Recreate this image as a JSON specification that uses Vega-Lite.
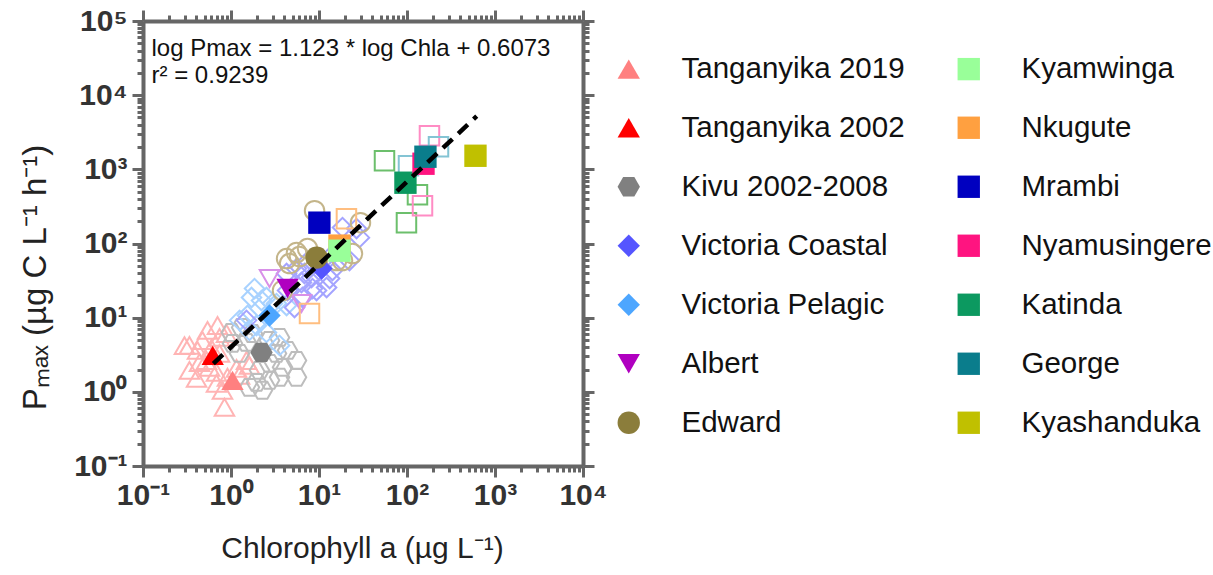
{
  "$schema": "https://vega.github.io/schema/vega-lite/v6.json",
  "width": 440,
  "height": 445,
  "autosize": {"type": "none"},
  "padding": {"left": 143, "top": 21, "right": 630, "bottom": 109},
  "config": {
    "font": "Liberation Sans",
    "view": {"stroke": null},
    "legend": {"labelFontSize": 29.5, "labelFont": "Liberation Sans", "labelColor": "#111111", "labelLimit": 400, "symbolStrokeWidth": 0, "padding": 0}
  },
  "datasets": {
    "open": [
      {"site": "Tanganyika 2019", "x": 0.337, "y": 4.23},
      {"site": "Tanganyika 2019", "x": 0.541, "y": 6.73},
      {"site": "Tanganyika 2019", "x": 0.703, "y": 7.85},
      {"site": "Tanganyika 2019", "x": 0.474, "y": 4.93},
      {"site": "Tanganyika 2019", "x": 0.74, "y": 5.42},
      {"site": "Tanganyika 2019", "x": 0.889, "y": 6.12},
      {"site": "Tanganyika 2019", "x": 0.439, "y": 2.49},
      {"site": "Tanganyika 2019", "x": 0.527, "y": 2.65},
      {"site": "Tanganyika 2019", "x": 0.337, "y": 1.95},
      {"site": "Tanganyika 2019", "x": 0.406, "y": 1.52},
      {"site": "Tanganyika 2019", "x": 0.57, "y": 2.14},
      {"site": "Tanganyika 2019", "x": 0.684, "y": 1.83},
      {"site": "Tanganyika 2019", "x": 0.912, "y": 1.57},
      {"site": "Tanganyika 2019", "x": 1.155, "y": 2.07},
      {"site": "Tanganyika 2019", "x": 1.5, "y": 2.65},
      {"site": "Tanganyika 2019", "x": 1.62, "y": 2.27},
      {"site": "Tanganyika 2019", "x": 0.684, "y": 1.3},
      {"site": "Tanganyika 2019", "x": 0.8, "y": 1.05},
      {"site": "Tanganyika 2019", "x": 0.843, "y": 0.62},
      {"site": "Tanganyika 2019", "x": 1.25, "y": 1.67},
      {"site": "Tanganyika 2019", "x": 0.416, "y": 3.62},
      {"site": "Tanganyika 2019", "x": 0.6, "y": 3.85},
      {"site": "Tanganyika 2019", "x": 0.74, "y": 3.3},
      {"site": "Tanganyika 2019", "x": 0.296, "y": 4.2},
      {"site": "Kivu 2002-2008", "x": 1.01, "y": 6.32},
      {"site": "Kivu 2002-2008", "x": 1.32, "y": 7.38},
      {"site": "Kivu 2002-2008", "x": 1.75, "y": 6.12},
      {"site": "Kivu 2002-2008", "x": 1.5, "y": 4.64},
      {"site": "Kivu 2002-2008", "x": 2.74, "y": 4.93},
      {"site": "Kivu 2002-2008", "x": 3.56, "y": 5.42},
      {"site": "Kivu 2002-2008", "x": 3.29, "y": 3.3},
      {"site": "Kivu 2002-2008", "x": 4.39, "y": 3.62},
      {"site": "Kivu 2002-2008", "x": 5.55, "y": 2.65},
      {"site": "Kivu 2002-2008", "x": 2.74, "y": 2.42},
      {"site": "Kivu 2002-2008", "x": 2.11, "y": 1.95},
      {"site": "Kivu 2002-2008", "x": 3.85, "y": 2.14},
      {"site": "Kivu 2002-2008", "x": 1.95, "y": 1.34},
      {"site": "Kivu 2002-2008", "x": 2.74, "y": 1.43},
      {"site": "Kivu 2002-2008", "x": 3.56, "y": 1.57},
      {"site": "Kivu 2002-2008", "x": 5.55, "y": 1.57},
      {"site": "Kivu 2002-2008", "x": 2.28, "y": 1.05},
      {"site": "Kivu 2002-2008", "x": 1.62, "y": 1.15},
      {"site": "Kivu 2002-2008", "x": 1.25, "y": 3.3},
      {"site": "Kivu 2002-2008", "x": 1.04, "y": 4.5},
      {"site": "Victoria Pelagic", "x": 1.85, "y": 24.7},
      {"site": "Victoria Pelagic", "x": 1.71, "y": 18.7},
      {"site": "Victoria Pelagic", "x": 2.53, "y": 18.7},
      {"site": "Victoria Pelagic", "x": 2.96, "y": 15.5},
      {"site": "Victoria Pelagic", "x": 1.54, "y": 10.7},
      {"site": "Victoria Pelagic", "x": 1.95, "y": 7.85},
      {"site": "Victoria Pelagic", "x": 2.53, "y": 6.32},
      {"site": "Victoria Pelagic", "x": 3.56, "y": 4.23},
      {"site": "Victoria Pelagic", "x": 4.28, "y": 14.6},
      {"site": "Victoria Pelagic", "x": 1.62, "y": 6.73},
      {"site": "Victoria Pelagic", "x": 2.22, "y": 17.0},
      {"site": "Victoria Pelagic", "x": 3.29, "y": 15.5},
      {"site": "Victoria Pelagic", "x": 1.25, "y": 9.2},
      {"site": "Victoria Coastal", "x": 4.28, "y": 39.4},
      {"site": "Victoria Coastal", "x": 5.55, "y": 45.9},
      {"site": "Victoria Coastal", "x": 7.21, "y": 55.3},
      {"site": "Victoria Coastal", "x": 6.32, "y": 29.8},
      {"site": "Victoria Coastal", "x": 8.22, "y": 34.8},
      {"site": "Victoria Coastal", "x": 10.1, "y": 43.2},
      {"site": "Victoria Coastal", "x": 13.2, "y": 33.7},
      {"site": "Victoria Coastal", "x": 12.2, "y": 25.5},
      {"site": "Victoria Coastal", "x": 8.44, "y": 24.7},
      {"site": "Victoria Coastal", "x": 6.49, "y": 18.7},
      {"site": "Victoria Coastal", "x": 5.27, "y": 13.7},
      {"site": "Victoria Coastal", "x": 18.5, "y": 164},
      {"site": "Victoria Coastal", "x": 26.7, "y": 159},
      {"site": "Victoria Coastal", "x": 28.8, "y": 120},
      {"site": "Victoria Coastal", "x": 22.2, "y": 58.9},
      {"site": "Victoria Coastal", "x": 14.2, "y": 43.2},
      {"site": "Victoria Coastal", "x": 4.39, "y": 23.2},
      {"site": "Victoria Coastal", "x": 6.84, "y": 39.4},
      {"site": "Victoria Coastal", "x": 13.2, "y": 64.6},
      {"site": "Victoria Coastal", "x": 9.38, "y": 23.2},
      {"site": "Victoria Coastal", "x": 1.5, "y": 9.2},
      {"site": "Albert", "x": 2.74, "y": 33.7},
      {"site": "Albert", "x": 6.32, "y": 15.5},
      {"site": "Edward", "x": 8.9, "y": 277},
      {"site": "Edward", "x": 5.55, "y": 75.5},
      {"site": "Edward", "x": 7.4, "y": 85.4},
      {"site": "Edward", "x": 4.28, "y": 62.6},
      {"site": "Edward", "x": 4.63, "y": 53.6},
      {"site": "Edward", "x": 3.85, "y": 23.2},
      {"site": "Edward", "x": 15.8, "y": 58.9},
      {"site": "Edward", "x": 24.0, "y": 73.1},
      {"site": "Edward", "x": 29.6, "y": 191},
      {"site": "Edward", "x": 18.5, "y": 58.9},
      {"site": "Edward", "x": 6.0, "y": 66.6},
      {"site": "Nkugute", "x": 20.5, "y": 216},
      {"site": "Nkugute", "x": 7.8, "y": 11.4},
      {"site": "Katinda", "x": 55.5, "y": 1306},
      {"site": "Katinda", "x": 131.5, "y": 455},
      {"site": "Katinda", "x": 98.6, "y": 191},
      {"site": "Nyamusingere", "x": 180, "y": 2832},
      {"site": "Nyamusingere", "x": 150, "y": 324},
      {"site": "George", "x": 228, "y": 2014},
      {"site": "George", "x": 104, "y": 1117}
    ],
    "means": [
      {"site": "Tanganyika 2019", "x": 1.04, "y": 1.43},
      {"site": "Tanganyika 2002", "x": 0.62, "y": 3.1},
      {"site": "Kivu 2002-2008", "x": 2.22, "y": 3.4},
      {"site": "Victoria Pelagic", "x": 2.74, "y": 10.7},
      {"site": "Victoria Coastal", "x": 10.7, "y": 45.9},
      {"site": "Albert", "x": 4.39, "y": 24.7},
      {"site": "Edward", "x": 9.4, "y": 64.6},
      {"site": "Nkugute", "x": 17.1, "y": 93.7},
      {"site": "Kyamwinga", "x": 17.1, "y": 80},
      {"site": "Mrambi", "x": 10.1, "y": 191},
      {"site": "Katinda", "x": 96, "y": 660},
      {"site": "Nyamusingere", "x": 154, "y": 1190},
      {"site": "George", "x": 162, "y": 1479},
      {"site": "Kyashanduka", "x": 600, "y": 1524}
    ],
    "fit": [
      {"x": 0.63, "y": 2.4},
      {"x": 620, "y": 5200}
    ],
    "eq": [
      {"x": 0.125, "y": 41950, "text": "log Pmax = 1.123 * log Chla + 0.6073"},
      {"x": 0.125, "y": 18200, "text": "r² = 0.9239"}
    ]
  },
  "resolve": {"axis": {"x": "independent", "y": "independent"}, "scale": {"color": "independent", "shape": "independent"}},
  "layer": [
    {
      "data": {"name": "open"},
      "mark": {"type": "point", "filled": false, "strokeWidth": 2, "opacity": 1, "size": 380},
      "encoding": {
        "x": {"field": "x", "type": "quantitative",
          "scale": {"type": "log", "domain": [0.1, 10000], "nice": false},
          "axis": {"orient": "top", "title": null, "labels": false, "grid": false,
            "values": [0.1,0.2,0.3,0.4,0.5,0.6,0.7,0.8,0.9,1,2,3,4,5,6,7,8,9,10,20,30,40,50,60,70,80,90,100,200,300,400,500,600,700,800,900,1000,2000,3000,4000,5000,6000,7000,8000,9000,10000],
            "tickSize": {"condition": {"test": "indexof([0.1,1,10,100,1000,10000,100000], datum.value) >= 0", "value": 11}, "value": 6},
            "tickWidth": 3, "tickColor": "#666666", "domainColor": "#666666", "domainWidth": 4}},
        "y": {"field": "y", "type": "quantitative",
          "scale": {"type": "log", "domain": [0.1, 100000], "nice": false},
          "axis": {"orient": "right", "title": null, "labels": false, "grid": false,
            "values": [0.1,0.2,0.3,0.4,0.5,0.6,0.7,0.8,0.9,1,2,3,4,5,6,7,8,9,10,20,30,40,50,60,70,80,90,100,200,300,400,500,600,700,800,900,1000,2000,3000,4000,5000,6000,7000,8000,9000,10000,20000,30000,40000,50000,60000,70000,80000,90000,100000],
            "tickSize": {"condition": {"test": "indexof([0.1,1,10,100,1000,10000,100000], datum.value) >= 0", "value": 11}, "value": 6},
            "tickWidth": 3, "tickColor": "#666666", "domainColor": "#666666", "domainWidth": 4}},
        "color": {"field": "site", "type": "nominal", "legend": null,
          "scale": {
            "domain": ["Tanganyika 2019","Kivu 2002-2008","Victoria Coastal","Victoria Pelagic","Albert","Edward","Nkugute","Katinda","Nyamusingere","George"],
            "range": ["#FFB4B4","#BDBDBD","#A4A4FF","#A8D2FF","#D890E8","#C4B58A","#FFBE80","#6CBF6C","#FF8CC4","#84C4D4"]}},
        "shape": {"field": "site", "type": "nominal", "legend": null,
          "scale": {
            "domain": ["Tanganyika 2019","Kivu 2002-2008","Victoria Coastal","Victoria Pelagic","Albert","Edward","Nkugute","Katinda","Nyamusingere","George"],
            "range": ["triangle-up","M-1,0L-0.5,-0.866L0.5,-0.866L1,0L0.5,0.866L-0.5,0.866Z","diamond","diamond","triangle-down","circle","square","square","square","square"]}}
      }
    },
    {
      "data": {"name": "means"},
      "mark": {"type": "point", "filled": true, "opacity": 1, "size": 500, "strokeWidth": 0},
      "encoding": {
        "x": {"field": "x", "type": "quantitative", "scale": {"type": "log", "domain": [0.1, 10000], "nice": false}, "axis": null},
        "y": {"field": "y", "type": "quantitative", "scale": {"type": "log", "domain": [0.1, 100000], "nice": false}, "axis": null},
        "color": {"field": "site", "type": "nominal",
          "legend": {"title": null, "orient": "none", "legendX": 471, "legendY": 33, "columns": 2, "columnPadding": 49, "rowPadding": 28, "labelOffset": 38, "symbolSize": 500},
          "scale": {
            "domain": ["Tanganyika 2019","Tanganyika 2002","Kivu 2002-2008","Victoria Coastal","Victoria Pelagic","Albert","Edward","Kyamwinga","Nkugute","Mrambi","Nyamusingere","Katinda","George","Kyashanduka"],
            "range": ["#FF8080","#FF0000","#808080","#5555FF","#4DA6FF","#B000C0","#8B7D3B","#99FF99","#FFA040","#0000C0","#FF1480","#0C9960","#0A7D8C","#C0C000"]}},
        "shape": {"field": "site", "type": "nominal",
          "legend": {"title": null, "orient": "none", "legendX": 471, "legendY": 33, "columns": 2, "columnPadding": 49, "rowPadding": 28, "labelOffset": 38, "symbolSize": 500},
          "scale": {
            "domain": ["Tanganyika 2019","Tanganyika 2002","Kivu 2002-2008","Victoria Coastal","Victoria Pelagic","Albert","Edward","Kyamwinga","Nkugute","Mrambi","Nyamusingere","Katinda","George","Kyashanduka"],
            "range": ["triangle-up","triangle-up","M-1,0L-0.5,-0.866L0.5,-0.866L1,0L0.5,0.866L-0.5,0.866Z","diamond","diamond","triangle-down","circle","square","square","square","square","square","square","square"]}}
      }
    },
    {
      "data": {"name": "fit"},
      "mark": {"type": "line", "color": "#000000", "strokeWidth": 4.5, "strokeDash": [13, 8]},
      "encoding": {
        "x": {"field": "x", "type": "quantitative",
          "scale": {"type": "log", "domain": [0.1, 10000], "nice": false},
          "axis": {"orient": "bottom", "title": "Chlorophyll a (µg L⁻¹)", "grid": false,
            "values": [0.1,0.2,0.3,0.4,0.5,0.6,0.7,0.8,0.9,1,2,3,4,5,6,7,8,9,10,20,30,40,50,60,70,80,90,100,200,300,400,500,600,700,800,900,1000,2000,3000,4000,5000,6000,7000,8000,9000,10000],
            "labelExpr": "indexof([0.1,1,10,100,1000,10000,100000], datum.value) < 0 ? '' : datum.value < 0.5 ? '10⁻¹' : datum.value < 5 ? '10⁰' : datum.value < 50 ? '10¹' : datum.value < 500 ? '10²' : datum.value < 5000 ? '10³' : datum.value < 50000 ? '10⁴' : '10⁵'",
            "labelFont": "Liberation Sans", "labelFontWeight": "bold", "labelFontSize": 30, "labelColor": "#333333",
            "labelFlush": false, "labelOverlap": false, "labelPadding": 3,
            "tickSize": {"condition": {"test": "indexof([0.1,1,10,100,1000,10000,100000], datum.value) >= 0", "value": 11}, "value": 6},
            "tickWidth": 3, "tickColor": "#666666", "domainColor": "#666666", "domainWidth": 4,
            "titleFont": "Liberation Sans", "titleFontWeight": "normal", "titleFontSize": 30, "titleColor": "#222222",
            "titleBaseline": "middle", "titleY": 82, "titleX": 219, "titleLimit": 1000}},
        "y": {"field": "y", "type": "quantitative",
          "scale": {"type": "log", "domain": [0.1, 100000], "nice": false},
          "axis": {"orient": "left", "title": "Pₘₐₓ (µg C L⁻¹ h⁻¹)", "grid": false,
            "values": [0.1,0.2,0.3,0.4,0.5,0.6,0.7,0.8,0.9,1,2,3,4,5,6,7,8,9,10,20,30,40,50,60,70,80,90,100,200,300,400,500,600,700,800,900,1000,2000,3000,4000,5000,6000,7000,8000,9000,10000,20000,30000,40000,50000,60000,70000,80000,90000,100000],
            "labelExpr": "indexof([0.1,1,10,100,1000,10000,100000], datum.value) < 0 ? '' : datum.value < 0.5 ? '10⁻¹' : datum.value < 5 ? '10⁰' : datum.value < 50 ? '10¹' : datum.value < 500 ? '10²' : datum.value < 5000 ? '10³' : datum.value < 50000 ? '10⁴' : '10⁵'",
            "labelFont": "Liberation Sans", "labelFontWeight": "bold", "labelFontSize": 30, "labelColor": "#333333",
            "labelFlush": false, "labelOverlap": false, "labelPadding": 5,
            "tickSize": {"condition": {"test": "indexof([0.1,1,10,100,1000,10000,100000], datum.value) >= 0", "value": 11}, "value": 6},
            "tickWidth": 3, "tickColor": "#666666", "domainColor": "#666666", "domainWidth": 4,
            "titleFont": "Liberation Sans", "titleFontWeight": "normal", "titleFontSize": 33, "titleColor": "#222222",
            "titleBaseline": "middle", "titleX": -108, "titleY": 256, "titleLimit": 1000}}
      }
    },
    {
      "data": {"name": "eq"},
      "mark": {"type": "text", "align": "left", "baseline": "middle", "fontSize": 24, "font": "Liberation Sans", "color": "#111111"},
      "encoding": {
        "x": {"field": "x", "type": "quantitative", "scale": {"type": "log", "domain": [0.1, 10000], "nice": false}, "axis": null},
        "y": {"field": "y", "type": "quantitative", "scale": {"type": "log", "domain": [0.1, 100000], "nice": false}, "axis": null},
        "text": {"field": "text", "type": "nominal"}
      }
    }
  ]
}
